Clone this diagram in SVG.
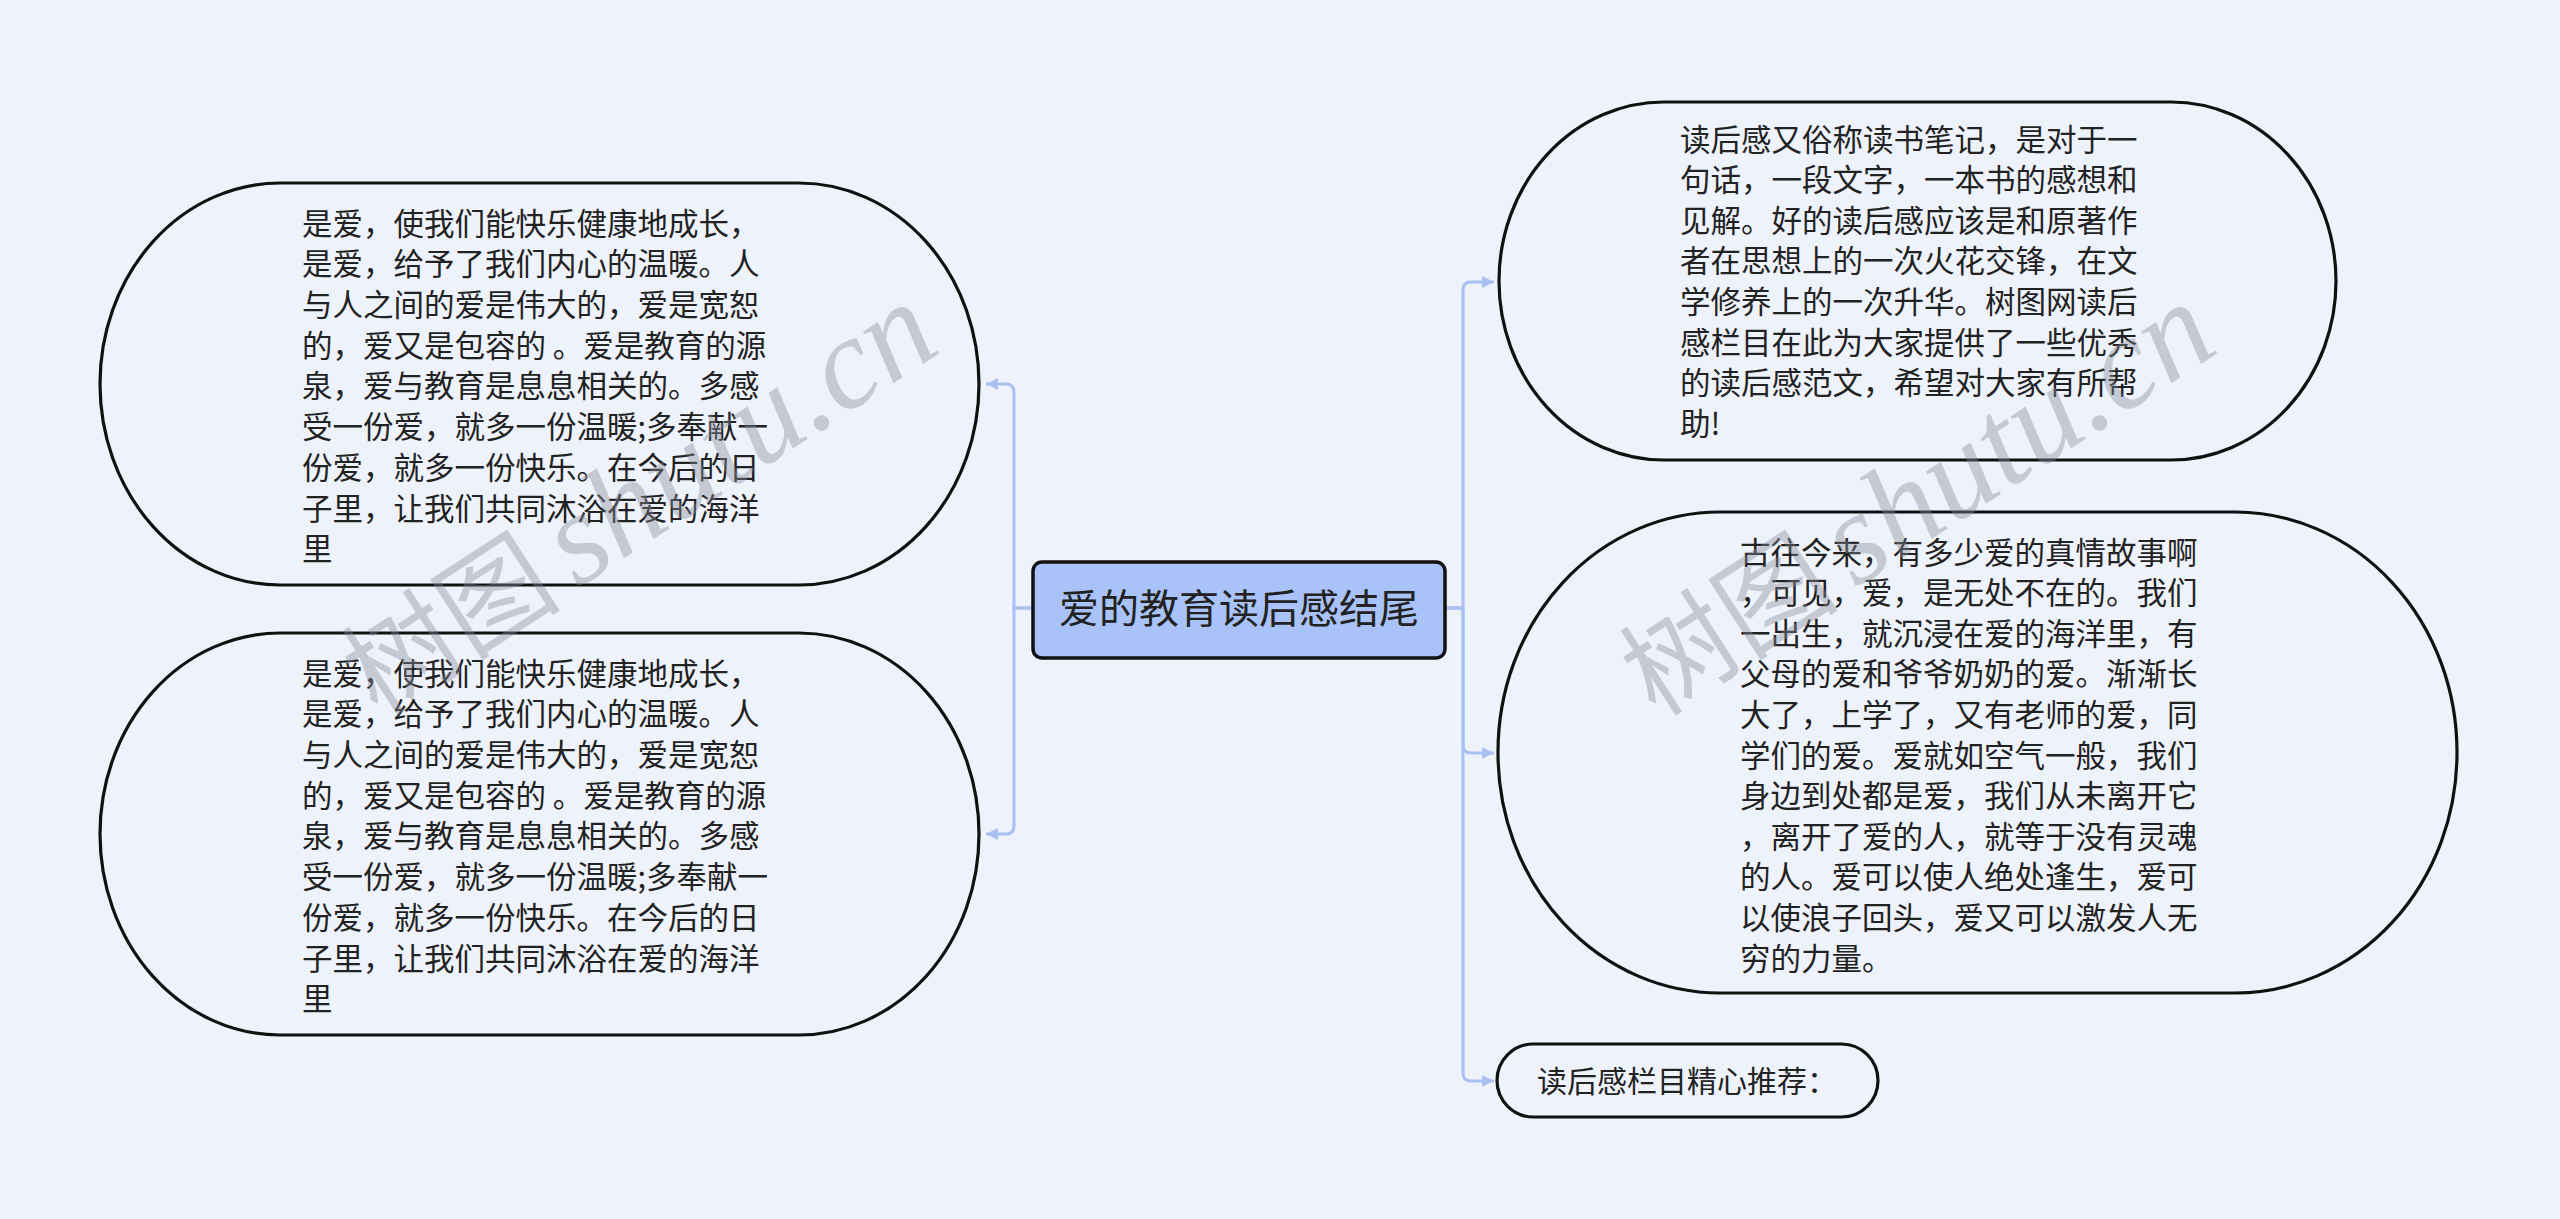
<svg xmlns="http://www.w3.org/2000/svg" width="2560" height="1219" viewBox="0 0 2560 1219">
<defs>
<style>
.bg{fill:#eef2fb}
.node{fill:#eef2fb;stroke:#111;stroke-width:3.2}
.center{fill:#a9c3f8;stroke:#111;stroke-width:3.5}
.t{font-family:"Noto Sans CJK SC","Noto Sans",sans-serif;font-size:30.5px;fill:#222}
.tc{font-family:"Noto Sans CJK SC","Noto Sans",sans-serif;font-size:40px;fill:#222}
.edge{fill:none;stroke:#a8c0f2;stroke-width:3}
.wm{font-size:110px;fill:#868c98;fill-opacity:0.4}
.wmz{font-family:"Noto Sans CJK SC",sans-serif}
.wml{font-family:"Liberation Serif",serif;font-style:italic;font-size:130px}
</style>
<marker id="arr" markerUnits="userSpaceOnUse" markerWidth="14" markerHeight="14" refX="12" refY="6" orient="auto">
<path d="M0,0 L12,6 L0,12 z" fill="#a8c0f2"/>
</marker>
</defs>
<rect class="bg" x="0" y="0" width="2560" height="1219"/>

<g id="connectors">
<path class="edge" d="M1033,608 H1014 V392 Q1014,384 1006,384 H986" marker-end="url(#arr)"/>
<path class="edge" d="M1033,608 H1014 V826 Q1014,834 1006,834 H986" marker-end="url(#arr)"/>
<path class="edge" d="M1445,608 H1463 V290 Q1463,282 1471,282 H1494" marker-end="url(#arr)"/>
<path class="edge" d="M1445,608 H1463 V745 Q1463,753 1471,753 H1494" marker-end="url(#arr)"/>
<path class="edge" d="M1445,608 H1463 V1073 Q1463,1081 1471,1081 H1494" marker-end="url(#arr)"/>
</g>

<g id="center">
<rect class="center" x="1033" y="562" width="412" height="96" rx="9"/>
<text class="tc" x="1239" y="623" text-anchor="middle">爱的教育读后感结尾</text>
</g>

<g id="left1">
<rect class="node" x="100" y="183" width="879" height="402" rx="180" ry="201"/>
<text class="t" x="302" y="234.6">
<tspan x="302">是爱，使我们能快乐健康地成长，</tspan>
<tspan x="302" dy="40.7">是爱，给予了我们内心的温暖。人</tspan>
<tspan x="302" dy="40.7">与人之间的爱是伟大的，爱是宽恕</tspan>
<tspan x="302" dy="40.7">的，爱又是包容的 。爱是教育的源</tspan>
<tspan x="302" dy="40.7">泉，爱与教育是息息相关的。多感</tspan>
<tspan x="302" dy="40.7">受一份爱，就多一份温暖;多奉献一</tspan>
<tspan x="302" dy="40.7">份爱，就多一份快乐。在今后的日</tspan>
<tspan x="302" dy="40.7">子里，让我们共同沐浴在爱的海洋</tspan>
<tspan x="302" dy="40.7">里</tspan>
</text>
</g>

<g id="left2">
<rect class="node" x="100" y="633" width="879" height="402" rx="180" ry="201"/>
<text class="t" x="302" y="684.6">
<tspan x="302">是爱，使我们能快乐健康地成长，</tspan>
<tspan x="302" dy="40.7">是爱，给予了我们内心的温暖。人</tspan>
<tspan x="302" dy="40.7">与人之间的爱是伟大的，爱是宽恕</tspan>
<tspan x="302" dy="40.7">的，爱又是包容的 。爱是教育的源</tspan>
<tspan x="302" dy="40.7">泉，爱与教育是息息相关的。多感</tspan>
<tspan x="302" dy="40.7">受一份爱，就多一份温暖;多奉献一</tspan>
<tspan x="302" dy="40.7">份爱，就多一份快乐。在今后的日</tspan>
<tspan x="302" dy="40.7">子里，让我们共同沐浴在爱的海洋</tspan>
<tspan x="302" dy="40.7">里</tspan>
</text>
</g>

<g id="right1">
<rect class="node" x="1499" y="102" width="837" height="358" rx="165" ry="179"/>
<text class="t" x="1680" y="150.6">
<tspan x="1680">读后感又俗称读书笔记，是对于一</tspan>
<tspan x="1680" dy="40.6">句话，一段文字，一本书的感想和</tspan>
<tspan x="1680" dy="40.6">见解。好的读后感应该是和原著作</tspan>
<tspan x="1680" dy="40.6">者在思想上的一次火花交锋，在文</tspan>
<tspan x="1680" dy="40.6">学修养上的一次升华。树图网读后</tspan>
<tspan x="1680" dy="40.6">感栏目在此为大家提供了一些优秀</tspan>
<tspan x="1680" dy="40.6">的读后感范文，希望对大家有所帮</tspan>
<tspan x="1680" dy="40.6">助!</tspan>
</text>
</g>

<g id="right2">
<rect class="node" x="1498" y="512" width="959" height="481" rx="222" ry="240"/>
<text class="t" x="1740" y="563.6">
<tspan x="1740">古往今来，有多少爱的真情故事啊</tspan>
<tspan x="1740" dy="40.6">，可见，爱，是无处不在的。我们</tspan>
<tspan x="1740" dy="40.6">一出生，就沉浸在爱的海洋里，有</tspan>
<tspan x="1740" dy="40.6">父母的爱和爷爷奶奶的爱。渐渐长</tspan>
<tspan x="1740" dy="40.6">大了，上学了，又有老师的爱，同</tspan>
<tspan x="1740" dy="40.6">学们的爱。爱就如空气一般，我们</tspan>
<tspan x="1740" dy="40.6">身边到处都是爱，我们从未离开它</tspan>
<tspan x="1740" dy="40.6">，离开了爱的人，就等于没有灵魂</tspan>
<tspan x="1740" dy="40.6">的人。爱可以使人绝处逢生，爱可</tspan>
<tspan x="1740" dy="40.6">以使浪子回头，爱又可以激发人无</tspan>
<tspan x="1740" dy="40.6">穷的力量。</tspan>
</text>
</g>

<g id="right3">
<rect class="node" x="1497" y="1044" width="381" height="73" rx="36.5"/>
<text class="t" x="1537" y="1091.5" style="font-size:30px">读后感栏目精心推荐：</text>
</g>

<g id="watermark">
<text class="wm" transform="translate(378,718) rotate(-33)"><tspan class="wmz">树图</tspan><tspan class="wml" dx="18">shutu.cn</tspan></text>
<text class="wm" transform="translate(1656,718) rotate(-33)"><tspan class="wmz">树图</tspan><tspan class="wml" dx="18">shutu.cn</tspan></text>
</g>
</svg>
